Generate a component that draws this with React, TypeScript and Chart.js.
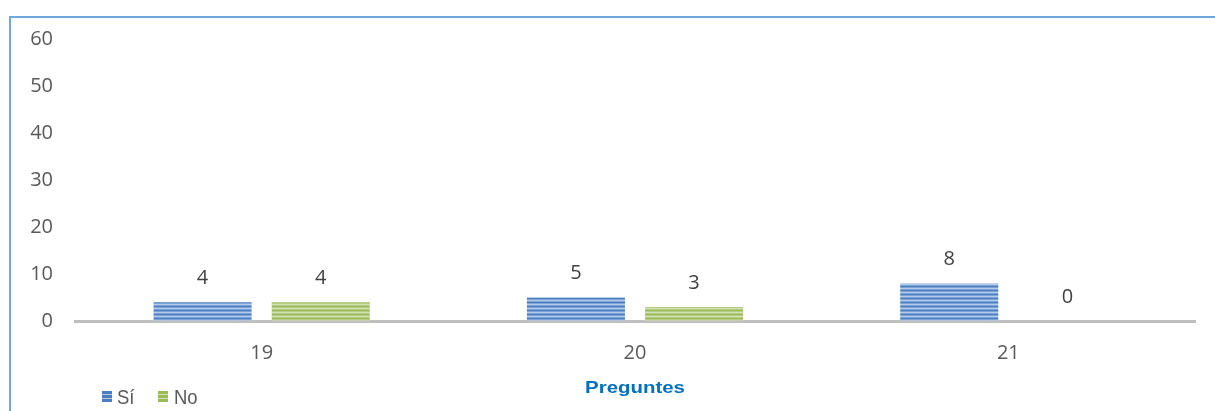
import React, { useEffect, useRef } from "react";
import { Chart, registerables } from "chart.js";

Chart.register(...registerables);

const categories = ["19", "20", "21"];
const siValues = [4, 5, 8];
const noValues = [4, 3, 0];
const seriesNames = ["Sí", "No"];
const axisTitle = "Preguntes";

function stripe(dark: string, mid: string, light: string) {
  const c = document.createElement("canvas");
  c.width = 4;
  c.height = 4;
  const g = c.getContext("2d")!;
  g.fillStyle = dark;
  g.fillRect(0, 0, 4, 1);
  g.fillStyle = mid;
  g.fillRect(0, 1, 4, 1);
  g.fillStyle = light;
  g.fillRect(0, 2, 4, 1);
  g.fillStyle = mid;
  g.fillRect(0, 3, 4, 1);
  const ctx = document.createElement("canvas").getContext("2d")!;
  return ctx.createPattern(c, "repeat") as CanvasPattern;
}

const blueBase = "#4A7EC0";
const blueMid = "#7EA3D6";
const blueLight = "#B3CAEA";
const greenBase = "#9BBB59";
const greenMid = "#B5CD84";
const greenLight = "#D2E1B3";

export default function App() {
  const ref = useRef<HTMLCanvasElement>(null);
  useEffect(() => {
    const decorations = {
      id: "decorations",
      afterDatasetsDraw(chart: any) {
        const ctx = chart.ctx;
        ctx.save();
        ctx.font = "20px 'Open Sans'";
        ctx.fillStyle = "#404040";
        ctx.textAlign = "center";
        ctx.textBaseline = "middle";
        chart.data.datasets.forEach((ds: any, i: number) => {
          const meta = chart.getDatasetMeta(i);
          meta.data.forEach((bar: any, j: number) => {
            ctx.fillText(String(ds.data[j]), bar.x, bar.y - 24);
          });
        });
        // axis title
        const area = chart.chartArea;
        ctx.save();
        ctx.translate((area.left + area.right) / 2, 370);
        ctx.scale(1.2, 1);
        ctx.font = "bold 17px 'Liberation Sans'";
        ctx.fillStyle = "#0070C0";
        ctx.fillText(axisTitle, 0, 0);
        ctx.restore();
        // legend
        const legendColors = [blueBase, greenBase];
        const legendLights = [blueLight, greenLight];
        const textX = [106, 163];
        const markerX = [91, 147];
        ctx.textAlign = "left";
        seriesNames.forEach((name, i) => {
          const x = markerX[i];
          ctx.fillStyle = legendColors[i];
          ctx.fillRect(x, 373, 10, 11);
          ctx.fillStyle = legendLights[i];
          ctx.fillRect(x, 376, 10, 1);
          ctx.fillRect(x, 380, 10, 1);
          ctx.save();
          ctx.translate(textX[i], 380);
          ctx.scale(0.88, 1);
          ctx.font = "21px 'Liberation Sans'";
          ctx.fillStyle = "#595959";
          ctx.fillText(name, 0, 0);
          ctx.restore();
        });
        ctx.restore();
      },
    };
    const chart = new Chart(ref.current!, {
      type: "bar",
      data: {
        labels: categories,
        datasets: [
          {
            label: seriesNames[0],
            data: siValues,
            backgroundColor: stripe(blueBase, blueMid, blueLight),
            categoryPercentage: 0.633,
            barPercentage: 0.83,
          },
          {
            label: seriesNames[1],
            data: noValues,
            backgroundColor: stripe(greenBase, greenMid, greenLight),
            categoryPercentage: 0.633,
            barPercentage: 0.83,
          },
        ],
      },
      options: {
        animation: false,
        responsive: false,
        maintainAspectRatio: false,
        layout: { padding: { top: 21, right: 20, left: 0, bottom: 0 } },
        plugins: { legend: { display: false }, tooltip: { enabled: false } },
        scales: {
          x: {
            grid: { display: false, drawTicks: false },
            border: { display: true, color: "#BFBFBF", width: 3 },
            ticks: {
              color: "#595959",
              font: { family: "'Open Sans'", size: 20 },
              padding: 20,
            },
            afterFit: (s: any) => {
              s.height = 90;
            },
          },
          y: {
            min: 0,
            max: 60,
            grid: {
              display: true,
              drawOnChartArea: false,
              drawTicks: true,
              tickLength: 20,
              color: "rgba(0,0,0,0)",
            },
            border: { display: false },
            ticks: {
              stepSize: 10,
              color: "#595959",
              font: { family: "'Open Sans'", size: 20 },
              padding: 2,
            },
            afterFit: (s: any) => {
              s.width = 64;
            },
          },
        },
      },
      plugins: [decorations],
    });
    return () => chart.destroy();
  }, []);
  return (
    <div
      style={{
        position: "absolute",
        left: 9,
        top: 16,
        width: 1206,
        height: 395,
        borderLeft: "2px solid #6FA8DC",
        borderTop: "2px solid #6FA8DC",
        boxSizing: "border-box",
        background: "#fff",
      }}
    >
      <canvas ref={ref} width={1204} height={393} style={{ display: "block" }} />
    </div>
  );
}
